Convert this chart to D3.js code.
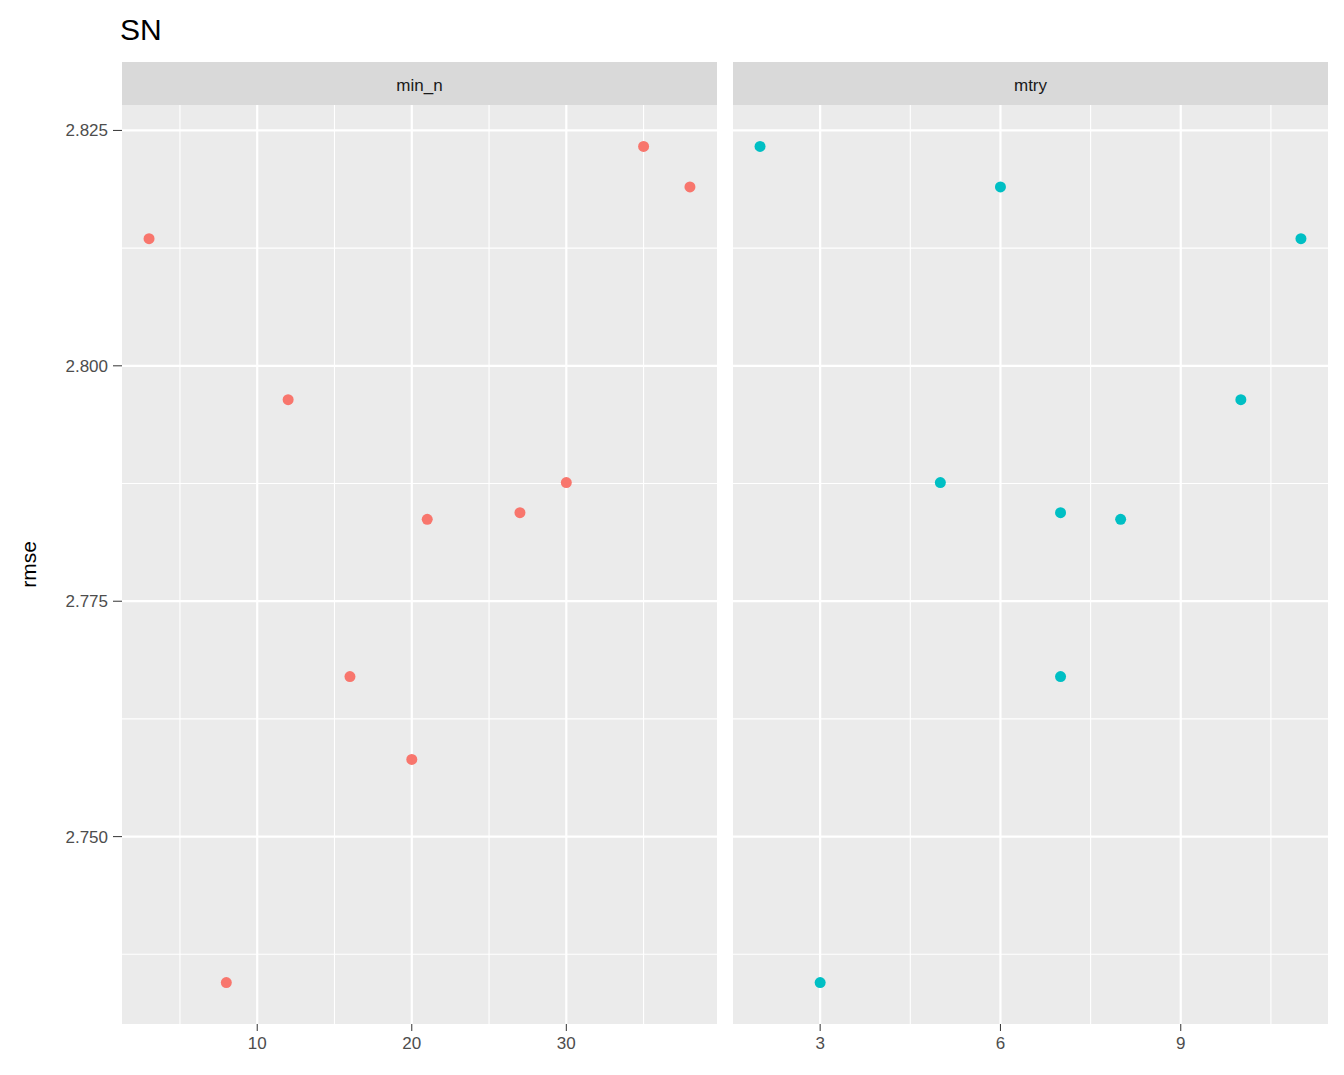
<!DOCTYPE html>
<html><head><meta charset="utf-8">
<script src="https://cdn.jsdelivr.net/npm/d3@7"></script>
<style>body{margin:0;background:#fff;font-family:"Liberation Sans",Arial,sans-serif}</style>
</head><body><svg id="chart" width="1344" height="1075"></svg>
<script>
const minN = [3, 8, 12, 16, 20, 21, 27, 30, 35, 38];
const minNRmse = [2.8135, 2.7345, 2.7964, 2.7670, 2.7582, 2.7837, 2.7844, 2.7876, 2.8233, 2.8190];
const mtry = [2, 3, 5, 6, 7, 7, 8, 10, 11];
const mtryRmse = [2.8233, 2.7345, 2.7876, 2.8190, 2.7844, 2.7670, 2.7837, 2.7964, 2.8135];
const yTicks = [2.750, 2.775, 2.800, 2.825];

const svg = d3.select('#chart');
const plotTop = 105, plotBottom = 1024;
const y = d3.scaleLinear().domain([2.7301, 2.8277]).range([plotBottom, plotTop]);

svg.append('text').attr('x', 120).attr('y', 40).attr('font-size', 30).attr('fill', '#000').text('SN');
svg.append('text').attr('transform', `translate(36,${(plotTop + plotBottom) / 2}) rotate(-90)`)
  .attr('text-anchor', 'middle').attr('font-size', 21).text('rmse');

yTicks.forEach(t => {
  svg.append('text').attr('x', 108).attr('y', y(t) + 6).attr('text-anchor', 'end')
    .attr('font-size', 17).attr('fill', '#4d4d4d').text(t.toFixed(3));
  svg.append('line').attr('x1', 113).attr('x2', 122).attr('y1', y(t)).attr('y2', y(t)).attr('stroke', '#333');
});

const panels = [
  {name: 'min_n', x0: 122, x1: 717, dom: [1.25, 39.75], ticks: [10, 20, 30], minor: [5, 15, 25, 35], xs: minN, ys: minNRmse, color: '#F8766D'},
  {name: 'mtry', x0: 733, x1: 1328, dom: [1.55, 11.45], ticks: [3, 6, 9], minor: [4.5, 7.5, 10.5], xs: mtry, ys: mtryRmse, color: '#00BFC4'}
];

panels.forEach(p => {
  const x = d3.scaleLinear().domain(p.dom).range([p.x0, p.x1]);
  const g = svg.append('g');
  g.append('rect').attr('x', p.x0).attr('y', 62).attr('width', p.x1 - p.x0).attr('height', plotTop - 62).attr('fill', '#d9d9d9');
  g.append('text').attr('x', (p.x0 + p.x1) / 2).attr('y', 91).attr('text-anchor', 'middle')
    .attr('font-size', 17).attr('fill', '#1a1a1a').text(p.name);
  g.append('rect').attr('x', p.x0).attr('y', plotTop).attr('width', p.x1 - p.x0).attr('height', plotBottom - plotTop).attr('fill', '#ebebeb');
  const minorY = d3.range(yTicks.length + 1).map(i => 2.7375 + 0.025 * i);
  minorY.forEach(t => g.append('line').attr('x1', p.x0).attr('x2', p.x1).attr('y1', y(t)).attr('y2', y(t)).attr('stroke', '#fff').attr('stroke-width', 1.1));
  p.minor.forEach(t => g.append('line').attr('x1', x(t)).attr('x2', x(t)).attr('y1', plotTop).attr('y2', plotBottom).attr('stroke', '#fff').attr('stroke-width', 1.1));
  yTicks.forEach(t => g.append('line').attr('x1', p.x0).attr('x2', p.x1).attr('y1', y(t)).attr('y2', y(t)).attr('stroke', '#fff').attr('stroke-width', 2.2));
  p.ticks.forEach(t => {
    g.append('line').attr('x1', x(t)).attr('x2', x(t)).attr('y1', plotTop).attr('y2', plotBottom).attr('stroke', '#fff').attr('stroke-width', 2.2);
    g.append('line').attr('x1', x(t)).attr('x2', x(t)).attr('y1', plotBottom).attr('y2', plotBottom + 7).attr('stroke', '#333');
    g.append('text').attr('x', x(t)).attr('y', plotBottom + 25).attr('text-anchor', 'middle')
      .attr('font-size', 17).attr('fill', '#4d4d4d').text(t);
  });
  g.selectAll('circle').data(p.xs.map((v, i) => [v, p.ys[i]])).join('circle')
    .attr('cx', d => x(d[0])).attr('cy', d => y(d[1])).attr('r', 5.5).attr('fill', p.color);
});
</script></body></html>
